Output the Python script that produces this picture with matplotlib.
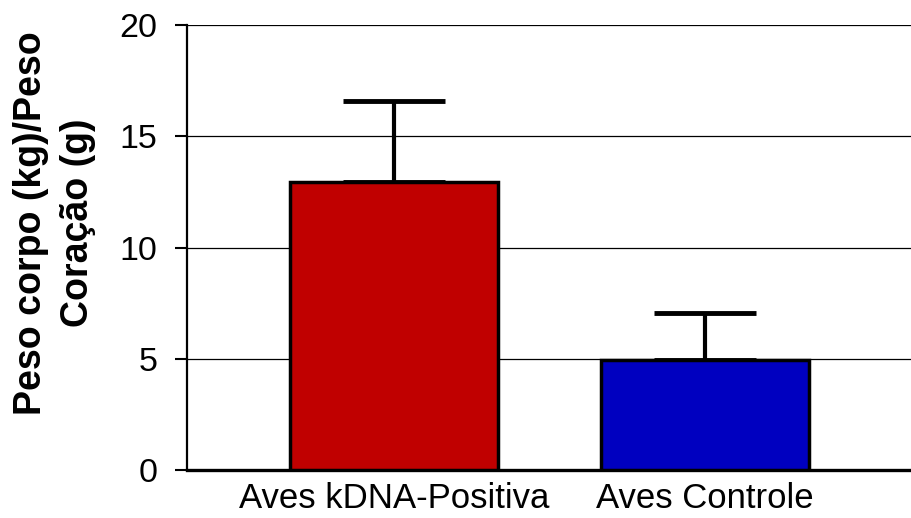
import matplotlib
matplotlib.use("Agg")
import matplotlib.pyplot as plt

# dados
grupos = ["Aves kDNA-Positiva", "Aves Controle"]
medias = [12.95, 4.95]
erros = [3.65, 2.1]
cores = ["#C00000", "#0000C0"]
yticks = [0, 5, 10, 15, 20]

plt.rcParams["font.family"] = ["Liberation Sans", "DejaVu Sans"]

fig = plt.figure(figsize=(9.11, 5.18), dpi=100)
ax = fig.add_axes([0.205, 0.0927, 0.80, 0.859])

x = list(range(len(grupos)))
ax.bar(x, medias, width=0.667, color=cores, edgecolor="black", linewidth=2.5, zorder=3)
ax.errorbar(x, medias, yerr=[[0] * len(erros), erros], fmt="none", ecolor="black",
            elinewidth=3, capsize=37, capthick=3.5, zorder=2)

ax.set_xlim(-0.667, 1.677)
ax.set_ylim(0, 20)
ax.set_yticks(yticks)
ax.set_xticks(x)
ax.set_xticklabels(grupos, fontsize=25)
ax.tick_params(axis="x", length=0, pad=9)
ax.tick_params(axis="y", length=9, width=1.5, direction="out", labelsize=24.5, pad=12)

ax.yaxis.grid(True, color="black", linewidth=0.9)
ax.set_axisbelow(True)
for s in ["top", "right"]:
    ax.spines[s].set_visible(False)
ax.spines["left"].set_linewidth(1.6)
ax.spines["bottom"].set_linewidth(2.4)

fig.text(0.060, 0.57, "Peso corpo (kg)/Peso\nCoração (g)", rotation=90, ha="center", va="center",
         multialignment="center", fontsize=27, fontweight="bold", linespacing=1.4)

fig.savefig("out.png", dpi=100)
